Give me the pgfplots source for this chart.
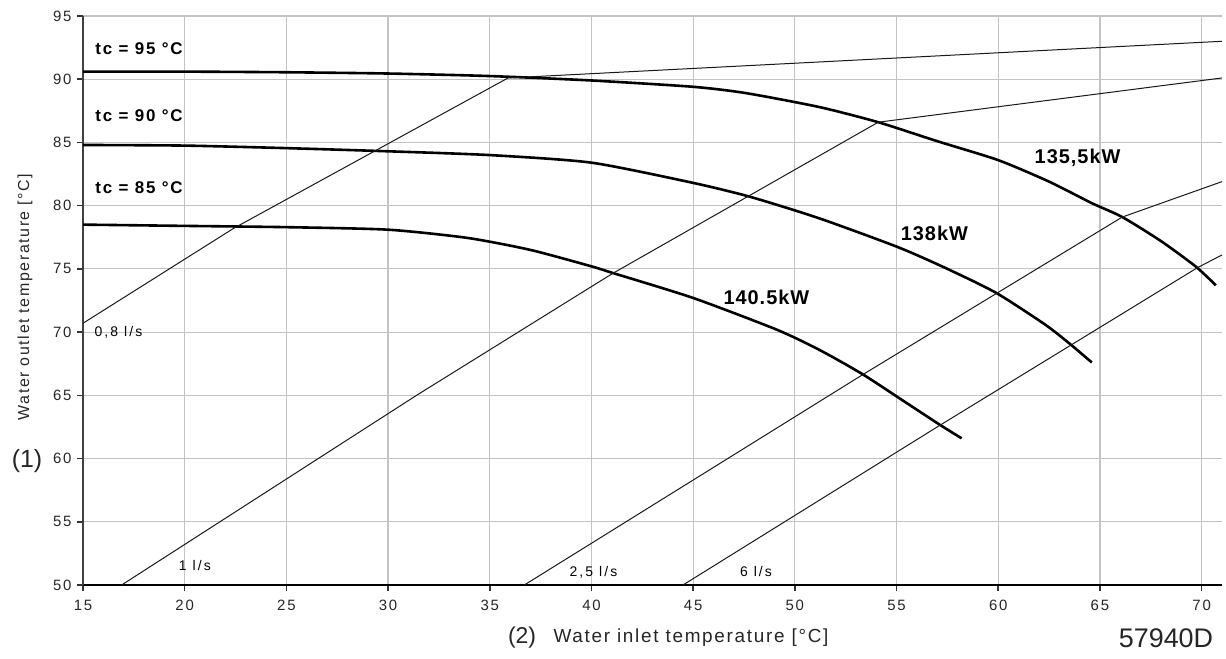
\documentclass[border=0pt]{standalone}
\usepackage{fontspec}
\setmainfont{Liberation Sans}
\usepackage{pgfplots}
\pgfplotsset{compat=1.18}
\definecolor{gridgray}{RGB}{195,195,195}
\newcommand{\fs}[2]{\fontsize{#1}{#1}\selectfont\addfontfeature{LetterSpace=#2}}
\begin{document}
\begin{tikzpicture}
\path[use as bounding box] (0bp,0bp) rectangle (1226bp,659bp);
\begin{axis}[
  at={(83bp,74bp)}, anchor=south west,
  scale only axis, width=1139bp, height=569bp,
  xmin=15, xmax=71, ymin=50, ymax=95,
  xtick={15,20,...,70}, ytick={50,55,...,95},
  axis x line=bottom, axis y line=left,
  x axis line style={-, black, line width=2bp},
  y axis line style={-, black!75, line width=2bp},
  tick align=outside, major tick length=6bp,
  tick style={black!80, line width=1.5bp},
  grid=major, major grid style={gridgray, line width=1.2bp},
  /pgf/number format/assume math mode=true,
  tick label style={font=\fs{15}{12}, text=black!85},
  xticklabel style={yshift=-6bp},
  yticklabel style={xshift=-2bp},
  clip=false,
]
% tc = 95 C (135,5 kW)
\addplot[black, line width=2.6bp, smooth, tension=0.4] coordinates {(15,90.6)(20,90.6)(25,90.55)(30,90.45)(35,90.25)(40,89.9)(45,89.4)(47.6,88.9)(51.2,87.8)(54.1,86.6)(57,85.1)(60,83.6)(62.5,81.9)(64.6,80.2)(66.1,79.1)(68,77.2)(69.7,75.2)(70.7,73.7)};
% tc = 90 C (138 kW)
\addplot[black, line width=2.6bp, smooth, tension=0.4] coordinates {(15,84.8)(20,84.75)(25,84.55)(30,84.3)(35,84.0)(40,83.4)(45,81.8)(47.8,80.7)(51.2,79.0)(55.1,76.7)(57.5,75.0)(59.9,73.1)(62.3,70.6)(63.5,69.1)(64.6,67.6)};
% tc = 85 C (140.5 kW)
\addplot[black, line width=2.6bp, smooth, tension=0.4] coordinates {(15,78.5)(20,78.4)(25,78.3)(30,78.1)(33.9,77.45)(37,76.5)(40,75.2)(41,74.7)(45,72.7)(49.1,70.2)(51.2,68.6)(53.3,66.7)(55.3,64.6)(57.1,62.7)(58.2,61.6)};
% flow lines
\addplot[black!90, line width=1bp] coordinates {(15,70.7)(22.4,78.2)(35.9,90.1)(71,93.0)};
\addplot[black!90, line width=1bp] coordinates {(16.9,50)(31.4,65)(41,74.6)(54.1,86.6)(71,90.1)};
\addplot[black!90, line width=1bp] coordinates {(36.7,50)(53.3,66.6)(66.1,79.1)(71,81.9)};
\addplot[black!90, line width=1bp] coordinates {(44.5,50)(57.1,62.6)(69.8,75.1)(71,76.1)};
% labels
\node[anchor=west, font=\bfseries\fs{17}{10}] at (axis cs:15.44,92.4) {tc = 95 °C};
\node[anchor=west, font=\bfseries\fs{17}{10}] at (axis cs:15.44,87.1) {tc = 90 °C};
\node[anchor=west, font=\bfseries\fs{17}{10}] at (axis cs:15.44,81.4) {tc = 85 °C};
\node[font=\bfseries\fs{20}{5}] at (axis cs:63.9,83.77) {135,5kW};
\node[font=\bfseries\fs{20}{5}] at (axis cs:56.86,77.8) {138kW};
\node[font=\bfseries\fs{20}{5}] at (axis cs:48.6,72.73) {140.5kW};
\node[anchor=west, font=\fs{14}{15}] at (axis cs:15.4,69.96) {0,8 l/s};
\node[font=\fs{14}{15}] at (axis cs:20.5,51.57) {1 l/s};
\node[font=\fs{14}{15}] at (axis cs:40.1,51.04) {2,5 l/s};
\node[font=\fs{14}{15}] at (axis cs:48.09,51.04) {6 l/s};
\end{axis}
\node[rotate=90, font=\fs{16}{10}, text=black!85] at (25bp,362bp) {Water outlet temperature [°C]};
\node[font=\fontsize{25}{25}\selectfont, text=black!85] at (27bp,198bp) {(1)};
\node[font=\fontsize{23}{23}\selectfont, text=black!85] at (522bp,21bp) {(2)};
\node[anchor=west, font=\fs{19}{9}, text=black!85] at (550bp,21bp) {Water inlet temperature [°C]};
\node[font=\fontsize{27}{27}\selectfont, text=black!85] at (1166bp,21bp) {57940D};
\end{tikzpicture}
\end{document}
